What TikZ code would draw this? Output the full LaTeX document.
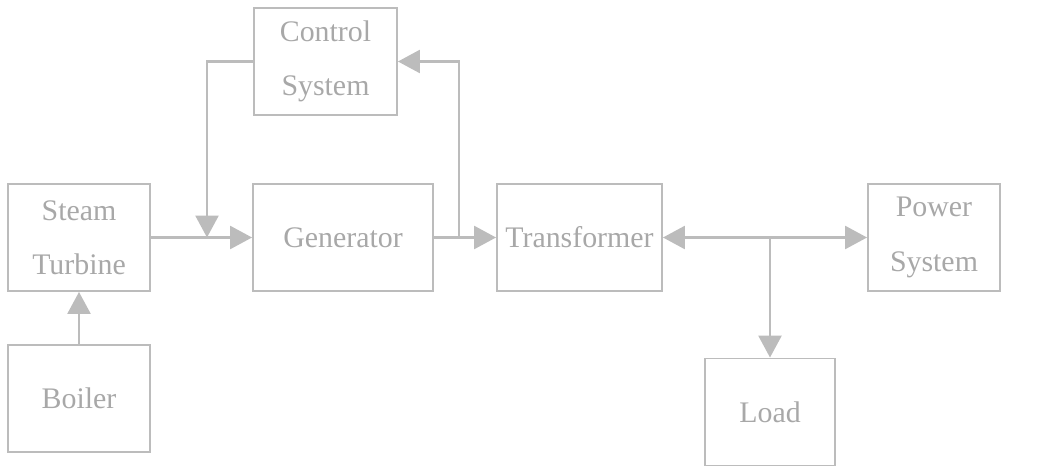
\documentclass[tikz,border=0pt]{standalone}
\usepackage{fontspec}
\setmainfont{Liberation Serif}
\usetikzlibrary{arrows.meta}
\definecolor{boxgray}{RGB}{188,188,188}
\definecolor{textgray}{RGB}{168,168,168}
\begin{document}
\begin{tikzpicture}[x=0.02cm,y=-0.02cm,>={Triangle[length=4.4mm,width=4.6mm]},
    blk/.style={draw=boxgray,line width=1.1pt,text=textgray,align=center,inner sep=0mm,minimum height=2.14cm,font=\fontsize{17}{31}\selectfont},
    wire/.style={draw=boxgray,line width=1.5pt}]
                \useasboundingbox (0,0) rectangle (1051,466);
                \foreach \x/\y/\w/\n/\t in {325.5/61.5/2.86/ctrl/Control\\System, 79/237.5/2.84/turb/Steam\\Turbine, 343/237.5/3.6/gen/Generator, 79/398.5/2.84/boil/Boiler, 579.5/237.5/3.3/trans/Transformer, 934/237.5/2.64/pow/Power\\System, 770/412/2.6/load/Load}
                \node[blk,minimum width=\w cm] (\n) at (\x,\y) {\t};
                \foreach \x/\n in {207/j1, 459/j2, 770/j3}
                \coordinate (\n) at (\x,237.5);
                \foreach \s/\t in {turb/gen, gen/trans, boil/turb, j3/load}
                \draw[->,wire] (\s) -- (\t);
                \draw[->,wire] (ctrl.west) -| (j1);
                \draw[->,wire] (j2) |- (ctrl.east);
                \draw[<->,wire] (trans) -- (pow);
            \end{tikzpicture}
\end{document}
